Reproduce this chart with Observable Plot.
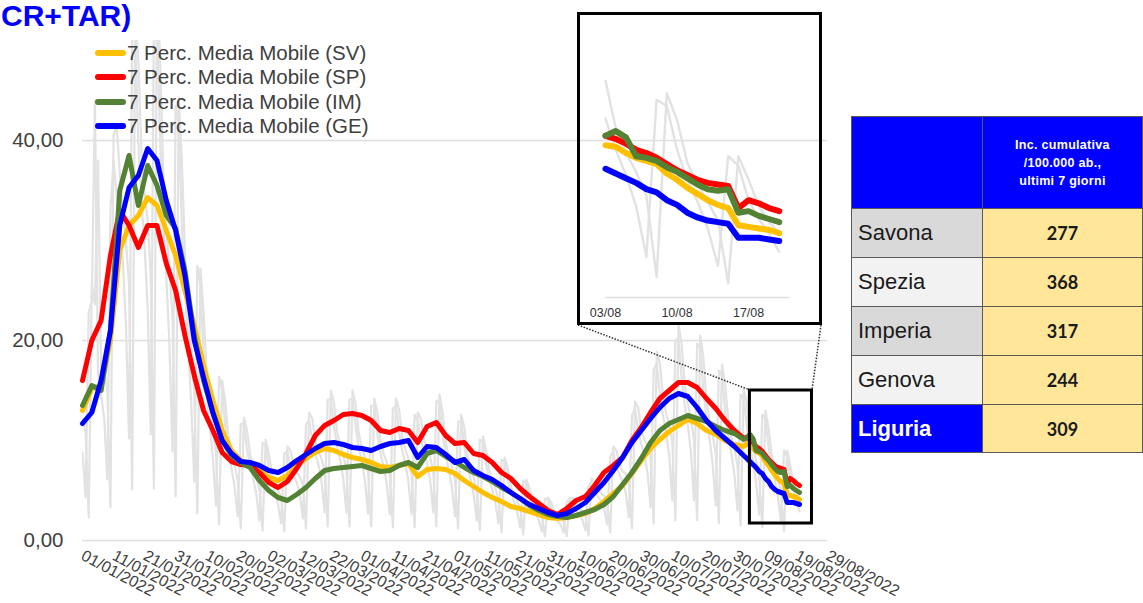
<!DOCTYPE html>
<html><head><meta charset="utf-8">
<script src="https://cdn.jsdelivr.net/npm/d3@7"></script>
<script src="https://cdn.jsdelivr.net/npm/@observablehq/plot@0.6"></script>
<style>
html,body{margin:0;padding:0;background:#fff;width:1143px;height:603px;overflow:hidden;position:relative;font-family:"Liberation Sans",Arial,sans-serif;}
.abs{position:absolute;}
#title{left:1px;top:0px;font-size:30px;line-height:32px;font-weight:bold;color:#0000ff;white-space:nowrap;}
#legend .row{position:absolute;left:95px;height:24px;line-height:24px;font-size:20.5px;color:#404040;white-space:nowrap;}
#legend .sw{position:absolute;left:0;top:9px;width:31px;height:6px;border-radius:3px;}
#legend .tx{position:absolute;left:32px;top:0;}
#insetBox{left:577px;top:12px;width:245px;height:313px;box-sizing:border-box;border:3px solid #000;background:transparent;}
#tbl{position:absolute;left:851px;top:116px;border-collapse:collapse;}
#tbl td{border:1px solid #595959;padding:0;}
#tbl td.name{width:133px;font-size:22px;color:#1a1a1a;padding-left:6px;box-sizing:border-box;}
#tbl td.val{width:165px;text-align:center;font-family:Lato,"Open Sans",sans-serif;font-weight:bold;font-size:18px;color:#1a1a1a;background:#ffe699;}
#tbl td.hd{background:#0000ff;color:#fff;text-align:center;font-size:12.5px;font-weight:bold;line-height:18px;letter-spacing:0.3px;}
</style></head><body>
<div id="main" class="abs" style="left:0;top:0"></div>
<svg id="conn" class="abs" style="left:0;top:0" width="1143" height="603"></svg>
<div id="insetBox" class="abs"><div id="inset"></div></div>
<div id="legend" class="abs" style="left:0;top:0"></div>
<div id="title" class="abs">CR+TAR)</div>
<table id="tbl"></table>
<script>
// ---------- data ----------
const titleText = "CR+TAR)";
const seriesNames = ["7 Perc. Media Mobile (SV)", "7 Perc. Media Mobile (SP)", "7 Perc. Media Mobile (IM)", "7 Perc. Media Mobile (GE)"];
const seriesColors = ["#ffc000", "#ff0000", "#548235", "#0000ff"];

// dates of moving-average readings (2022)
const maDates = ["01/01","04/01","07/01","10/01","13/01","16/01","19/01","22/01","25/01","28/01",
"31/01","03/02","06/02","09/02","12/02","15/02","18/02","21/02","24/02","27/02",
"02/03","05/03","08/03","11/03","14/03","17/03","20/03","23/03","26/03","29/03",
"01/04","04/04","07/04","10/04","13/04","16/04","19/04","22/04","25/04","28/04",
"01/05","04/05","07/05","10/05","13/05","16/05","19/05","22/05","25/05","28/05",
"31/05","03/06","06/06","09/06","12/06","15/06","18/06","21/06","24/06","27/06",
"30/06","03/07","06/07","09/07","12/07","15/07","18/07","21/07","24/07","27/07",
"30/07","02/08",
"03/08","04/08","05/08","06/08","07/08","08/08","09/08","10/08","11/08","12/08",
"13/08","14/08","15/08","16/08","17/08","18/08","19/08","20/08"];

const maSV = [13,15.2,15.5,20,29,31.5,32.5,34.3,33.5,31, 28.5,25,21.5,17.5,14,11,9,8,7.6,7,
6.3,6,6.5,7.5,8.2,8.8,9.2,9,8.6,8.3, 8.1,7.8,7.4,7.3,7.5,7.7,6.4,7.1,7.2,7.1,
6.7,6,5.4,4.8,4.3,3.9,3.4,3.2,2.9,2.6, 2.3,2.2,2.3,2.5,2.7,3.2,3.9,4.7,5.5,6.7,
8,9.2,10.1,10.9,11.5,12.1,11.7,11,10.6,10, 9.6,9.4,
9.7,9.6,9.2,8.9,8.7,8.5,7.9,7.5,7.0,6.6,6.2,5.9,5.7,4.6,4.5,4.4,4.3,4.1];
const maSP = [16,20,22,28.5,33,31.5,29.3,31.5,31.5,27.7, 25,20.5,16.5,13,11,8.8,7.9,7.6,7.5,6.8,
5.8,5.3,5.9,7.2,8.7,10.5,11.5,12,12.6,12.7, 12.5,12,11,10.8,11.2,11,9.8,11.4,11.8,10.5,
9.7,9.8,8.7,8.5,7.8,6.8,6.2,5.2,4.4,3.7, 3,2.6,3.2,4,4.4,5.5,6.8,7.5,8.3,10,
11.3,12.8,14.2,15,15.8,15.8,15.3,14.2,13.2,12, 11,10.2,
10.3,10.1,9.8,9.4,9.2,8.9,8.5,8.1,7.8,7.5,7.3,7.2,7.1,5.7,6.2,6.0,5.7,5.5];
const maIM = [13.5,15.5,15,21,35,38.5,33.5,37.5,35.5,32.5, 31.2,27,20.5,16,12.8,10,8.5,7.8,7.3,6,
5,4.3,4,4.6,5.3,6.2,7,7.2,7.3,7.4, 7.5,7.2,6.9,7,7.5,7.8,7.3,8.7,9,8.4,
7.9,7.3,6.8,6.4,5.9,5.3,4.8,4.2,3.5,3, 2.6,2.4,2.3,2.5,2.8,3.1,3.6,4.4,5.6,6.8,
8.2,9.8,11,11.7,12.1,12.5,12.2,11.9,11.4,11, 10.7,10.1,
10.3,10.6,10.2,9.0,8.9,8.7,8.3,8.0,7.6,7.2,6.9,6.8,6.9,5.4,5.5,5.2,5.0,4.8];
const maGE = [11.7,12.8,16,21,31.5,35.3,36.5,39.2,38,34, 31,26.5,20,16.3,12.8,10,8.7,7.9,7.8,7.5,
7,6.8,7.3,8,8.6,9.2,9.7,9.8,9.6,9.3, 9.2,9,9.4,9.7,9.8,10,8.3,9.4,9.3,8.6,
7.8,8.1,7,6.5,6.1,5.5,4.8,4.2,3.6,3.2, 2.8,2.5,2.7,3.2,3.8,4.8,5.8,7,8.3,9.8,
11,12.2,13.3,14.2,14.7,14.4,13.3,12,11,10.2, 9.4,8.5,
8.2,7.9,7.6,7.3,6.9,6.7,6.2,5.9,5.4,5.1,4.9,4.8,4.7,3.8,3.8,3.8,3.7,3.6];

// daily raw values (grey lines), from 01/01/2022
const rawStart = "01/01/2022";
const rawA = [12.2,10.7,2.3,25.6,23.6,38,17, 16.8,15.2,3.3,40.5,41.6,36.8,32.7, 30,25.5,5.1,53.3,47.9,38.9,34.7,
32,26.4,5.2,55.2,48.3,37,31, 27.3,22.3,4.4,44.3,38.1,28.8,23.2, 19.3,14.7,2.7,27.2,22.8,16.9,13.6,
11.3,8.8,1.6,16,13.8,10.4,8.5, 7.5,6,1.2,12.3,11,8.6,7.3, 6.3,5.1,1,10.1,8.7,6.8,5.7,
5,4.3,0.9,9.4,9,7.5,6.8, 6.4,5.6,1.2,12.8,12.2,10,8.9, 8.2,7,1.4,15,13.8,10.9,9.5,
8.6,7.1,1.4,15,13.6,10.7,9.3, 8.3,6.8,1.4,14.2,12.8,10,8.7, 7.8,6.5,1.3,14.2,13.1,10.4,9.1,
8.2,6.6,1.3,12.8,12.2,10.1,9.1, 8.3,6.9,1.4,14.6,12.8,9.9,8.4, 7.4,6,1.2,12.6,11.3,8.6,7.3,
6.3,5.1,1,10.4,9.1,7.1,6, 5.2,4.2,0.8,8.3,7.3,5.5,4.6, 4,3.2,0.6,6.1,5.2,3.9,3.3,
2.8,2.3,0.4,4.3,3.8,2.9,2.4, 2.3,1.9,0.4,4.3,4.2,3.5,3.1, 3,2.6,0.5,6.2,5.9,5.1,4.7,
4.5,4,0.8,9.4,9,7.6,6.9, 6.7,5.9,1.2,13.9,13.3,11,10.1, 9.5,8.3,1.7,18.9,17.7,14.4,12.7,
11.7,9.9,2,21.6,19.7,15.6,13.7, 12.2,10,2,20.5,18.3,14.1,12, 10.6,8.6,1.7,17.6,15.7,12.2,10.4,
9.2,7.5,1.5,15.2,13.8,10.8,9.2, 8,6.5,1.3,13,11.3,8.6,7.2, 6.1,4.9,0.9,9,7.5,5.8,4.8, 4.1];
const rawB = [8.8,4.3,22.8,24,44,16.7,14.5, 12.2,6.1,33,38,34.4,32,27.8, 21.6,10.2,50.5,50,39.6,33.8,29.5,
23.1,10.6,52.2,51.8,40,32.2,26.4, 19.7,8.9,43.5,41.6,31.6,25,19.7, 13.9,5.9,27.5,25.5,18.8,14.7,11.6,
8.2,3.5,16.4,15,11.4,9,7.2, 5.4,2.4,11.7,11.6,9.1,7.5,6.2, 4.6,2,9.8,9.5,7.2,5.9,4.8,
3.6,1.7,8.7,8.9,7.4,6.5,5.8, 4.6,2.2,11.6,12,10.1,8.7,7.6, 5.9,2.8,14.1,14.1,11.4,9.5,8.1,
6.2,2.8,14.1,14.1,11.3,9.3,7.9, 6,2.7,13.5,13.4,10.6,8.7,7.4, 5.7,2.6,13.2,13.4,10.8,9,7.7,
5.9,2.6,12.6,12,10.1,8.8,7.7, 6,2.8,14,13.7,10.6,8.6,7.1, 5.3,2.4,11.9,11.9,9.4,7.5,6.2,
4.6,2,10.1,9.8,7.6,6.2,5.1, 3.8,1.7,8.1,7.8,6,4.8,3.9, 2.9,1.3,6,5.7,4.3,3.4,2.8,
2,0.9,4.2,4.1,3.1,2.5,2, 1.6,0.8,3.9,4.1,3.5,3,2.6, 2.1,1,5.4,5.9,4.9,4.4,4,
3.3,1.6,8.4,8.9,7.4,6.6,5.9, 4.8,2.3,12.5,13.1,11,9.6,8.6, 6.8,3.3,17.1,17.7,14.6,12.5,10.8,
8.5,4,20,20.3,16.3,13.6,11.6, 8.8,4,19.7,19.2,15.1,12.3,10.2, 7.7,3.5,17,16.5,13,10.6,8.8,
6.6,3,14.6,14.3,11.4,9.4,7.8, 5.8,2.6,12.6,12.2,9.4,7.5,6.1, 4.4,2,9,8.4,6.2,5,4.1, 2.9];

const yTicks = [0, 20, 40];
const xTickLabels = ["01/01/2022","11/01/2022","21/01/2022","31/01/2022","10/02/2022","20/02/2022",
"02/03/2022","12/03/2022","22/03/2022","01/04/2022","11/04/2022","21/04/2022","01/05/2022",
"11/05/2022","21/05/2022","31/05/2022","10/06/2022","20/06/2022","30/06/2022","10/07/2022",
"20/07/2022","30/07/2022","09/08/2022","19/08/2022","29/08/2022"];
const zoomWindow = {from: "04/08", to: "24/08", low: 1.7, high: 15};
const insetRange = ["03/08", "21/08"];
const insetTicks = ["03/08", "10/08", "17/08"];

const tableHeader = ["Inc. cumulativa", "/100.000 ab.,", "ultimi 7 giorni"];
const tableNames = ["Savona", "Spezia", "Imperia", "Genova", "Liguria"];
const tableValues = [277, 368, 317, 244, 309];

// ---------- helpers ----------
const parseDM = s => { const [d, m] = s.split("/").map(Number); return new Date(Date.UTC(2022, m - 1, d)); };
const parseDMY = s => { const [d, m, y] = s.split("/").map(Number); return new Date(Date.UTC(y, m - 1, d)); };
const maSeries = [maSV, maSP, maIM, maGE].map(vals => maDates.map((s, i) => ({date: parseDM(s), value: vals[i]})));
const rawSeries = [rawB, rawA].map(vals => vals.map((v, i) => ({date: d3.utcDay.offset(parseDMY(rawStart), i), value: v})));
const fmtY = v => v.toFixed(2).replace(".", ",");
const FONT = "Liberation Sans, Arial, sans-serif";
const GREY = "#e2e2e2";

// ---------- main chart ----------
const main = Plot.plot({
  width: 1143, height: 603,
  marginTop: 40, marginBottom: 63, marginLeft: 82, marginRight: 316,
  x: {type: "utc", domain: [parseDMY(xTickLabels[0]), parseDMY(xTickLabels[xTickLabels.length - 1])]},
  y: {domain: [0, 50]},
  style: {fontFamily: FONT, color: "#404040", background: "transparent", overflow: "visible"},
  marks: [
    Plot.ruleY(yTicks, {stroke: "#dedede", strokeWidth: 1.3}),
    ...rawSeries.map(data => Plot.line(data, {x: "date", y: "value", stroke: GREY, strokeWidth: 2.2, clip: true})),
    ...maSeries.map((data, i) => Plot.line(data, {x: "date", y: "value", stroke: seriesColors[i], strokeWidth: 5, strokeLinejoin: "round"})),
    Plot.rect([zoomWindow], {x1: d => parseDM(d.from), x2: d => parseDM(d.to), y1: "low", y2: "high", fill: "none", stroke: "#000", strokeWidth: 3}),
    Plot.axisY({ticks: yTicks, tickFormat: fmtY, tickSize: 0, tickPadding: 19, fontSize: 20.5, label: null}),
    Plot.axisX({ticks: xTickLabels.map(parseDMY), tickFormat: d3.utcFormat("%d/%m/%Y"), tickRotate: 28, tickSize: 0, tickPadding: 14, fontSize: 16, label: null})
  ]
});
document.getElementById("main").appendChild(main);

// ---------- inset ----------
const i0 = parseDM(insetRange[0]);
const inset = Plot.plot({
  width: 239, height: 307,
  marginLeft: 25, marginRight: 30, marginTop: 125, marginBottom: 25,
  x: {type: "utc", domain: [i0, parseDM(insetRange[1])]},
  y: {domain: [0, 10], axis: null},
  style: {fontFamily: FONT, color: "#333", background: "transparent", overflow: "visible"},
  marks: [
    Plot.ruleY([0], {stroke: "#dedede", strokeWidth: 1.3}),
    ...rawSeries.map(data => Plot.line(data.filter(d => d.date >= i0), {x: "date", y: "value", stroke: GREY, strokeWidth: 2.4})),
    ...maSeries.map((data, i) => Plot.line(data.filter(d => d.date >= i0), {x: "date", y: "value", stroke: seriesColors[i], strokeWidth: 6, strokeLinejoin: "round"})),
    Plot.axisX({ticks: insetTicks.map(parseDM), tickFormat: d3.utcFormat("%d/%m"), tickSize: 0, tickPadding: 11, fontSize: 12.5, label: null})
  ]
});
document.getElementById("inset").appendChild(inset);

// ---------- connector lines (dotted) ----------
const conn = d3.select("#conn");
conn.append("line").attr("x1", 578).attr("y1", 325).attr("x2", 750).attr("y2", 390)
  .attr("stroke", "#333").attr("stroke-width", 1.5).attr("stroke-dasharray", "1.5,1.5");
conn.append("line").attr("x1", 821).attr("y1", 325).attr("x2", 812).attr("y2", 390)
  .attr("stroke", "#333").attr("stroke-width", 1.5).attr("stroke-dasharray", "1.5,1.5");

// ---------- legend ----------
const legend = d3.select("#legend");
seriesNames.forEach((name, i) => {
  const row = legend.append("div").attr("class", "row").style("top", (41 + i * 24.3) + "px");
  row.append("span").attr("class", "sw").style("background", seriesColors[i]);
  row.append("span").attr("class", "tx").text(name);
});
document.getElementById("title").textContent = titleText;

// ---------- table ----------
const tbl = d3.select("#tbl");
const hr = tbl.append("tr").style("height", "92px");
hr.append("td").attr("class", "hd").style("width", "133px");
hr.append("td").attr("class", "hd").style("width", "165px").html(tableHeader.join("<br>"));
const rowBg = ["#d9d9d9", "#f2f2f2", "#d9d9d9", "#f2f2f2", "#0000ff"];
tableNames.forEach((n, i) => {
  const tr = tbl.append("tr").style("height", (i === 4 ? 48 : 49) + "px");
  const c = tr.append("td").attr("class", "name").style("background", rowBg[i]).text(n);
  if (i === 4) c.style("color", "#fff").style("font-weight", "bold");
  tr.append("td").attr("class", "val").text(tableValues[i]);
});
</script>
</body></html>
